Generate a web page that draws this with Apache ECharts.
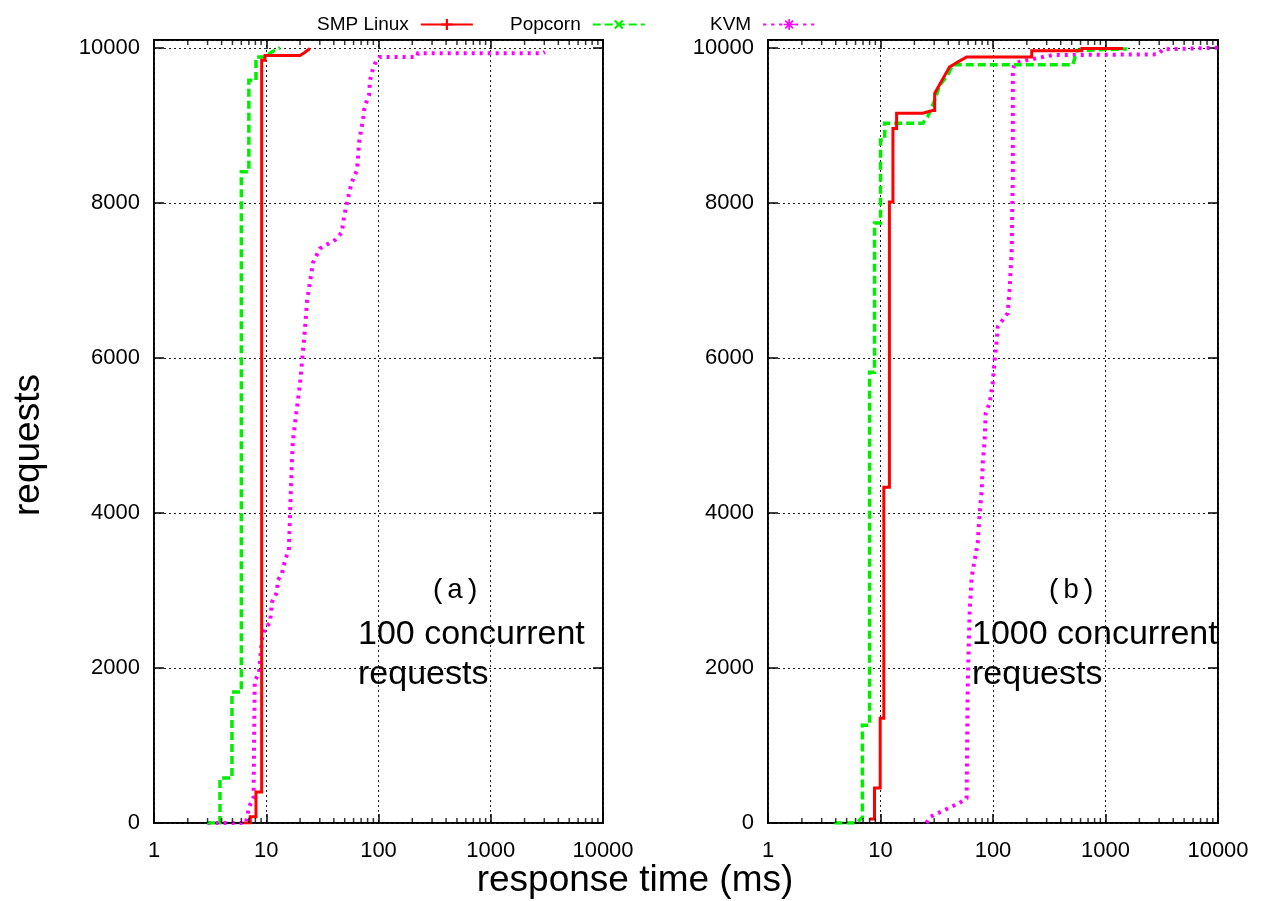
<!DOCTYPE html>
<html>
<head>
<meta charset="utf-8">
<script src="https://cdn.jsdelivr.net/npm/echarts@6/dist/echarts.min.js"></script>
<style>
html,body{margin:0;padding:0;background:#fff;}
#chart{width:1264px;height:901px;}
</style>
</head>
<body>
<div id="chart"></div>
<script>
// ---- data (response time ms, cumulative requests) ----
const seriesNames = ['SMP Linux', 'Popcorn', 'KVM'];
const xTicks = [1, 10, 100, 1000, 10000];
const yTicks = [0, 2000, 4000, 6000, 8000, 10000];
const panelLabels = ['(a)', '(b)'];
const panelTexts = ['100 concurrent\nrequests', '1000 concurrent\nrequests'];

// panel (a): 100 concurrent requests
const smpA = [[6.3,0],[7.2,0],[7.2,80],[8.1,80],[8.1,400],[9.1,400],[9.1,9840],[9.75,9840],[9.75,9900],[20,9900],[22,9940],[24.5,9990]];
const popA = [[2.97,0],[3.87,0],[3.87,580],[4.95,580],[4.95,1690],[6.0,1690],[6.0,8400],[7.0,8400],[7.0,9580],[8.1,9580],[8.1,9880],[9.75,9880],[9.75,9900],[11.3,9950],[13.3,10000]];
const kvmA = [[3.0,0],[6.6,0],[7.0,200],[7.7,330],[7.9,1840],[8.6,1920],[9.2,2400],[9.9,2530],[10.8,2580],[11.25,2850],[12.4,2970],[12.7,3130],[13.8,3220],[14.7,3390],[15.9,3520],[16.9,4650],[17.3,4940],[20,5670],[22.1,6360],[23.1,6740],[26.1,7230],[30.1,7410],[41,7520],[47.3,7620],[48.3,7740],[50.3,7880],[54.6,8120],[58,8270],[64.3,8420],[65.7,8590],[67,8770],[69.9,8935],[72.8,9065],[74.3,9195],[77.4,9285],[82.4,9390],[84,9580],[89.3,9735],[95,9825],[103,9880],[220,9880],[225,9930],[2900,9930],[3040,9945]];

// panel (b): 1000 concurrent requests
const smpB = [[8.0,50],[8.85,50],[8.85,450],[9.94,450],[9.94,1350],[10.7,1350],[10.7,4330],[12.0,4330],[12.0,8010],[12.9,8010],[12.9,8960],[13.9,8960],[13.9,9155],[23.7,9155],[29,9190],[30.3,9190],[30.3,9410],[41,9750],[48.5,9815],[58.3,9880],[221,9880],[221,9960],[617,9960],[617,9990],[1430,9990]];
const popB = [[3.9,0],[6.1,0],[6.9,70],[6.9,1260],[8.0,1260],[8.0,5815],[8.85,5815],[8.85,7740],[10.0,7740],[10.0,8810],[10.9,8810],[10.9,9025],[23.7,9025],[26.2,9105],[30.3,9320],[33.5,9515],[39.5,9645],[43.8,9780],[513,9780],[556,9965],[1550,9985]];
const kvmB = [[25.6,0],[27.3,75],[50.5,260],[58.3,320],[59.5,1680],[60.8,2270],[62,2710],[64.6,3170],[68.7,3390],[73.1,3610],[76.2,4000],[79.4,4290],[81,4640],[84.4,4940],[86.1,5290],[93.5,5420],[99.3,5670],[103.5,5970],[108,6230],[110,6400],[127,6525],[135,6575],[141,6910],[147,7430],[148,7870],[150,8290],[150,9710],[156,9800],[200,9840],[245,9865],[340,9905],[2930,9915],[3250,9980],[10000,10000]];

// minor log ticks (2..9 per decade)
const minorTickValues = [];
for (let d = 1; d < 10000; d *= 10) for (let k = 2; k <= 9; k++) minorTickValues.push(k * d);

// ---- styling ----
const FONT = 'Liberation Sans';
const YMAX = 10100;
const colors = ['#ff0000', '#00ee00', '#ff00ff'];
const lineStyles = [
  {width: 3, type: 'solid'},
  {width: 3.5, type: [8, 4]},
  {width: 4, type: [3, 5]}
];
const symbols = [
  'path://M4,0H6V4H10V6H6V10H4V6H0V4H4Z',
  'path://M4,0H6V4H10V6H6V10H4V6H0V4H4Z',
  'path://M4.3,0h1.4v3.3l2.3-2.3 1,1-2.3,2.3h3.3v1.4h-3.3l2.3,2.3-1,1-2.3-2.3v3.3h-1.4v-3.3l-2.3,2.3-1-1 2.3-2.3h-3.3v-1.4h3.3l-2.3-2.3 1-1 2.3,2.3z'
];
const symbolRotates = [0, 45, 0];

const grids = [
  {left: 154, top: 40, width: 449, height: 783, show: true, borderColor: '#000', borderWidth: 2, backgroundColor: 'transparent'},
  {left: 768, top: 40, width: 450, height: 783, show: true, borderColor: '#000', borderWidth: 2, backgroundColor: 'transparent'}
];

const gridLine = {show: true, lineStyle: {color: '#222', width: 1, type: [2, 3]}};

function xAx(gi, top) {
  return {
    type: 'log', logBase: 10, min: 1, max: 10000, gridIndex: gi,
    position: top ? 'top' : 'bottom',
    axisLine: {show: false, onZero: false},
    axisTick: {show: true, inside: true, length: 9, lineStyle: {color: '#000', width: 1.5}},
    axisLabel: top ? {show: false} : {
      show: true, margin: 17, fontSize: 22, fontFamily: FONT, color: '#000',
      formatter: v => { const r = Math.round(v); return xTicks.indexOf(r) >= 0 ? String(r) : ''; }
    },
    splitLine: top ? {show: false} : gridLine,
    minorTick: {show: false}
  };
}
function yAx(gi, right) {
  return {
    type: 'value', min: 0, max: YMAX, interval: 2000, gridIndex: gi,
    position: right ? 'right' : 'left',
    axisLine: {show: false, onZero: false},
    axisTick: {show: true, inside: true, length: 10, lineStyle: {color: '#000', width: 1.5}},
    axisLabel: right ? {show: false} : {
      show: true, margin: 14, fontSize: 22, fontFamily: FONT, color: '#000', showMaxLabel: false,
      formatter: v => (yTicks.indexOf(v) >= 0 ? String(v) : '')
    },
    splitLine: right ? {show: false} : gridLine
  };
}

const series = [];
const panelData = [[smpA, popA, kvmA], [smpB, popB, kvmB]];
panelData.forEach((set, gi) => {
  set.forEach((d, si) => {
    series.push({
      name: seriesNames[si], type: 'line', data: d,
      xAxisIndex: gi * 2, yAxisIndex: gi * 2,
      showSymbol: false, symbol: symbols[si], symbolSize: 11, symbolRotate: symbolRotates[si],
      color: colors[si],
      lineStyle: Object.assign({color: colors[si], cap: 'butt', join: 'miter'}, lineStyles[si]),
      itemStyle: {color: colors[si]},
      silent: true, animation: false, z: 5 - si
    });
  });
  // minor ticks bottom and top
  series.push({
    type: 'scatter', xAxisIndex: gi * 2, yAxisIndex: gi * 2, silent: true, clip: false,
    symbol: 'rect', symbolSize: [1.5, 5], symbolOffset: [0, -2.5],
    itemStyle: {color: '#000'}, data: minorTickValues.map(v => [v, 0]), z: 6
  });
  series.push({
    type: 'scatter', xAxisIndex: gi * 2, yAxisIndex: gi * 2, silent: true, clip: false,
    symbol: 'rect', symbolSize: [1.5, 5], symbolOffset: [0, 2.5],
    itemStyle: {color: '#000'}, data: minorTickValues.map(v => [v, YMAX]), z: 6
  });
});

const legendLefts = [317, 510, 710];
const legends = seriesNames.map((n, i) => ({
  data: [n], left: legendLefts[i], top: 15, padding: 0, orient: 'horizontal',
  align: 'right', itemWidth: 52, itemHeight: 14, selectedMode: false,
  textStyle: {fontSize: 19, fontFamily: FONT, color: '#000', padding: [0, 7, 0, 0]}
}));

const graphic = [
  {type: 'text', left: 430, top: 577, style: {text: panelLabels[0], font: '28px "Liberation Mono"', fill: '#000'}},
  {type: 'text', left: 1046, top: 577, style: {text: panelLabels[1], font: '28px "Liberation Mono"', fill: '#000'}},
  {type: 'text', left: 358, top: 615, style: {text: panelTexts[0], font: '34px "Liberation Sans"', lineHeight: 40, fill: '#000'}},
  {type: 'text', left: 972, top: 615, style: {text: panelTexts[1], font: '34px "Liberation Sans"', lineHeight: 40, fill: '#000'}},
  {type: 'text', x: 635, y: 881, style: {text: 'response time (ms)', font: '37px "Liberation Sans"', fill: '#000', textAlign: 'center', textVerticalAlign: 'middle'}},
  {type: 'text', x: 29, y: 445, rotation: Math.PI / 2, style: {text: 'requests', font: '37px "Liberation Sans"', fill: '#000', textAlign: 'center', textVerticalAlign: 'middle'}}
];

const chart = echarts.init(document.getElementById('chart'), null, {renderer: 'canvas'});
chart.setOption({
  animation: false,
  backgroundColor: '#fff',
  grid: grids,
  xAxis: [xAx(0, false), xAx(0, true), xAx(1, false), xAx(1, true)],
  yAxis: [yAx(0, false), yAx(0, true), yAx(1, false), yAx(1, true)],
  legend: legends,
  series: series,
  graphic: graphic
});
</script>
</body>
</html>
